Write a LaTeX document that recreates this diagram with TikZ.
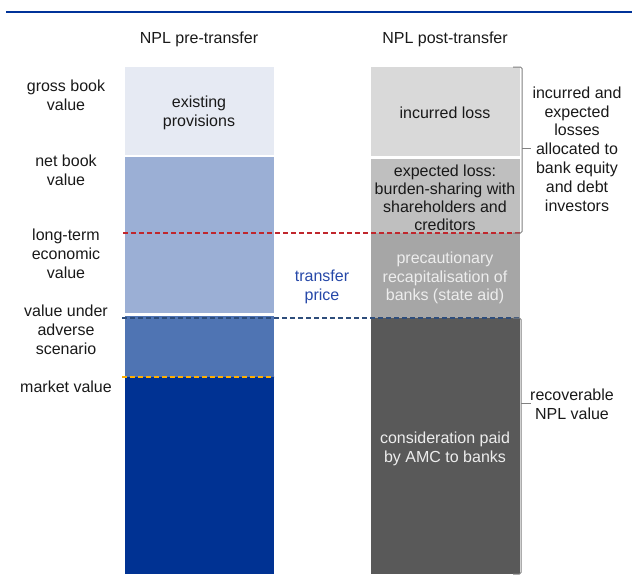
\documentclass[tikz,border=0pt]{standalone}
\usepackage{fontspec}
\setmainfont{Liberation Sans}
\begin{document}
\begin{tikzpicture}[x=1pt,y=-1pt,
  lbl/.style={align=center,inner sep=0pt,font=\fontsize{16}{18.8}\selectfont,text=black!90},
  lit/.style={lbl,text=white!93!black},
  brk/.style={draw=black!50,line width=1pt,rounded corners=1.5pt},
  dsh/.style={line width=1.6pt,dash pattern=on 5pt off 3pt}]
\useasboundingbox (0,0) rectangle (636,584);
% top rule
\draw[line width=2pt,color={rgb,255:red,0;green,51;blue,153}] (6,12) -- (632,12);
% column titles
\node[lbl] (t1) at (199,39) {NPL pre-transfer};
\node[lbl] (t2) at (445,39) {NPL post-transfer};
% left column
\fill[color={rgb,255:red,230;green,234;blue,243}] (125,67) rectangle (274,155);
\fill[color={rgb,255:red,155;green,175;blue,213}] (125,157) rectangle (274,313);
\fill[color={rgb,255:red,79;green,116;blue,179}] (125,316) rectangle (274,377);
\fill[color={rgb,255:red,0;green,50;blue,147}] (125,377) rectangle (274,574);
% right column
\fill[color={rgb,255:red,217;green,217;blue,217}] (371,67) rectangle (520,156);
\fill[color={rgb,255:red,191;green,191;blue,191}] (371,159) rectangle (520,233);
\fill[color={rgb,255:red,166;green,166;blue,166}] (371,233) rectangle (520,318);
\fill[color={rgb,255:red,89;green,89;blue,89}] (371,318) rectangle (520,574);
% dashed lines
\coordinate (r1) at (123,233); \coordinate (r2) at (522,233);
\coordinate (b1) at (122,318); \coordinate (b2) at (521,318);
\coordinate (o1) at (122,377); \coordinate (o2) at (274,377);
\draw[dsh,color={rgb,255:red,192;green,39;blue,45}] (r1) -- (r2);
\draw[dsh,color={rgb,255:red,46;green,77;blue,123}] (b1) -- (b2);
\draw[dsh,color={rgb,255:red,255;green,176;blue,0}] (o1) -- (o2);
% brackets
\draw[brk] (513,67) -- (522,67) -- (522,233) -- (513,233);
\draw[brk] (522,148) -- (531,148);
\draw[brk] (513,318) -- (521,318) -- (521,574) -- (513,574);
\draw[brk] (521,403) -- (531,403);
% left labels
\node[lbl] (l1) at (66,95) {gross book\\value};
\node[lbl] (l2) at (66,170) {net book\\value};
\node[lbl] (l3) at (66,254) {long-term\\economic\\value};
\node[lbl] (l4) at (66,330) {value under\\adverse\\scenario};
\node[lbl] (l5) at (66,387) {market value};
% left column text
\node[lbl] (p1) at (199,113) {existing\\provisions};
% transfer price
\node[lbl,text={rgb,255:red,38;green,72;blue,168}] (tp) at (322,287) {transfer\\price};
% right column text
\node[lbl] (q1) at (445,113) {incurred loss};
\node[lbl,font=\fontsize{16}{18}\selectfont] (q2) at (445,198) {expected loss:\\burden-sharing with\\shareholders and\\creditors};
\node[lit] (q3) at (445,278) {precautionary\\recapitalisation of\\banks (state aid)};
\node[lit] (q4) at (445,449) {consideration paid\\by AMC to banks};
% right labels
\node[lbl] (s1) at (577,149) {incurred and\\expected\\losses\\allocated to\\bank equity\\and debt\\investors};
\node[lbl] (s2) at (572,404) {recoverable\\NPL value};
\end{tikzpicture}
\end{document}
